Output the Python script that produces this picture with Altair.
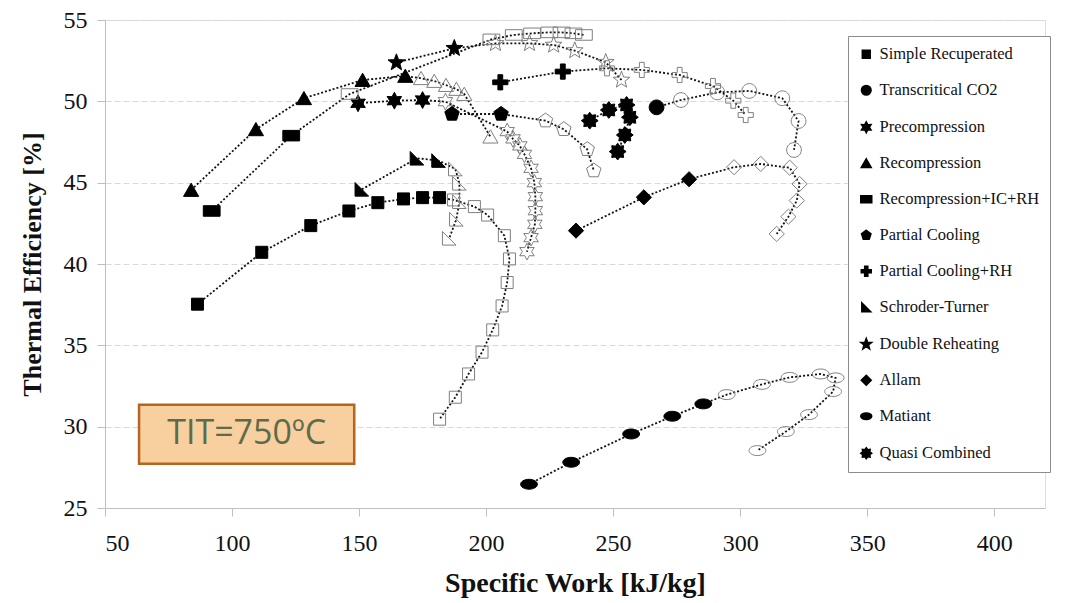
import altair as alt
import pandas as pd

# ---- series names, in legend order ----
SERIES = [
    "Simple Recuperated", "Transcritical CO2", "Precompression", "Recompression",
    "Recompression+IC+RH", "Partial Cooling", "Partial Cooling+RH", "Schroder-Turner",
    "Double Reheating", "Allam", "Matiant", "Quasi Combined",
]

# ---- specific work [kJ/kg] / thermal efficiency [%]; the first N points are filled ----
SR_X = [86.4, 111.7, 131.0, 146.0, 157.4, 167.5, 175.0, 181.7,
        187.2, 195.4, 200.6, 207.2, 209.2, 208.3, 206.3, 202.6, 198.4, 193.1, 187.9, 181.7]
SR_Y = [37.53, 40.72, 42.36, 43.26, 43.77, 44.00, 44.08, 44.08,
        43.94, 43.53, 43.01, 41.74, 40.31, 38.86, 37.42, 35.95, 34.58, 33.24, 31.81, 30.46]
SR_N = 8

TC_X = [267.1, 276.7, 291.0, 303.6, 316.6, 323.0, 321.2]
TC_Y = [49.63, 50.08, 50.55, 50.64, 50.19, 48.79, 47.01]
TC_N = 1

PC_X = [149.6, 163.9, 175.0, 184.0, 208.3, 210.6, 213.3, 215.1, 217.7, 219.0, 219.4, 219.4, 219.2, 217.7, 216.1]
PC_Y = [49.88, 50.04, 50.08, 49.98, 48.14, 47.69, 47.26, 46.74, 45.88, 45.00, 44.14, 43.28, 42.44, 41.62, 40.76]
PC_N = 3

RC_X = [83.9, 109.4, 128.3, 151.4, 168.2, 174.4, 179.6, 184.2, 188.3, 191.4, 201.7]
RC_Y = [44.55, 48.28, 50.19, 51.31, 51.56, 51.42, 51.25, 51.00, 50.76, 50.45, 47.83]
RC_N = 5

RIR_X = [92.0, 123.3, 146.3, 202.1, 210.9, 218.1, 224.9, 229.7, 234.4, 238.5]
RIR_Y = [43.26, 47.89, 50.45, 53.81, 54.08, 54.18, 54.24, 54.24, 54.18, 54.08]
RIR_N = 2

PCL_X = [186.6, 205.9, 223.4, 230.6, 239.8, 242.4]
PCL_Y = [49.22, 49.22, 48.81, 48.28, 47.05, 45.74]
PCL_N = 2

PCR_X = [205.6, 230.2, 247.6, 261.3, 276.2, 289.3, 297.3, 302.2]
PCR_Y = [51.17, 51.83, 52.03, 51.93, 51.62, 50.94, 50.04, 49.16]
PCR_N = 2

ST_X = [151.1, 172.8, 181.3, 187.9, 189.5, 189.5, 188.3, 185.5]
ST_Y = [44.59, 46.50, 46.36, 45.84, 44.96, 43.83, 42.75, 41.58]
ST_N = 3

DR_X = [164.7, 187.5, 203.7, 217.1, 226.6, 234.9, 247.1, 253.3]
DR_Y = [52.38, 53.26, 53.56, 53.56, 53.46, 53.12, 52.40, 51.31]
DR_N = 2

AL_X = [235.4, 262.1, 279.9, 297.6, 308.1, 319.5, 323.4, 322.3, 319.0, 314.4]
AL_Y = [42.05, 44.10, 45.21, 45.95, 46.15, 45.92, 44.92, 43.90, 42.91, 41.85]
AL_N = 3

MA_X = [216.9, 233.5, 257.1, 273.3, 285.5, 294.7, 308.6, 319.5, 331.7, 337.6, 336.6, 327.1, 318.0, 306.8]
MA_Y = [26.46, 27.81, 29.55, 30.64, 31.40, 31.97, 32.60, 33.03, 33.24, 33.00, 32.16, 30.74, 29.70, 28.53]
MA_N = 5

QC_X = [240.8, 248.3, 255.3, 256.6, 254.6, 251.8]
QC_Y = [48.81, 49.47, 49.78, 49.02, 47.93, 46.91]
QC_N = 6

X_TICKS = [50, 100, 150, 200, 250, 300, 350, 400]
Y_TICKS = [25, 30, 35, 40, 45, 50, 55]

LABEL_TEXT = ["TIT=750\u00baC"]
LABEL_BOX_X = [63.4, 148.1]
LABEL_BOX_Y = [27.72, 31.34]

# ---- marker outlines (unit paths, scaled by the symbol size) ----
SHAPES = [
    "M-0.75,-0.75H0.75V0.75H-0.75Z",
    "M-0.92,0A0.92,0.92 0 1,0 0.92,0A0.92,0.92 0 1,0 -0.92,0Z",
    "M0,-1.05L0.289,-0.5L0.909,-0.525L0.578,0L0.909,0.525L0.289,0.5L0,1.05L-0.289,0.5"
    "L-0.909,0.525L-0.578,0L-0.909,-0.525L-0.289,-0.5Z",
    "M0,-0.85L0.95,0.8L-0.95,0.8Z",
    "M-1.05,-0.66H1.05V0.66H-1.05Z",
    "M0,-0.95L0.903,-0.294L0.559,0.769L-0.559,0.769L-0.903,-0.294Z",
    "M-0.3,-0.95H0.3V-0.3H0.95V0.3H0.3V0.95H-0.3V0.3H-0.95V-0.3H-0.3Z",
    "M-0.85,-0.85L-0.85,0.85L0.85,0.85Z",
    "M0,-1.1L0.272,-0.374L1.046,-0.34L0.439,0.143L0.647,0.89L0,0.462L-0.647,0.89"
    "L-0.439,0.143L-1.046,-0.34L-0.272,-0.374Z",
    "M0,-0.95L0.95,0L0,0.95L-0.95,0Z",
    "M-1.05,0A1.05,0.62 0 1,0 1.05,0A1.05,0.62 0 1,0 -1.05,0Z",
    "M0,-1.05L0.281,-0.679L0.742,-0.742L0.679,-0.281L1.05,0L0.679,0.281L0.742,0.742"
    "L0.281,0.679L0,1.05L-0.281,0.679L-0.742,0.742L-0.679,0.281L-1.05,0L-0.679,-0.281"
    "L-0.742,-0.742L-0.281,-0.679Z",
]

SERIES_DATA = [
    (SR_X, SR_Y, SR_N), (TC_X, TC_Y, TC_N), (PC_X, PC_Y, PC_N), (RC_X, RC_Y, RC_N),
    (RIR_X, RIR_Y, RIR_N), (PCL_X, PCL_Y, PCL_N), (PCR_X, PCR_Y, PCR_N), (ST_X, ST_Y, ST_N),
    (DR_X, DR_Y, DR_N), (AL_X, AL_Y, AL_N), (MA_X, MA_Y, MA_N), (QC_X, QC_Y, QC_N),
]

rows = []
for name, (xs, ys, n_filled) in zip(SERIES, SERIES_DATA):
    for i, (xv, yv) in enumerate(zip(xs, ys)):
        rows.append({"series": name, "idx": i, "work": xv, "eff": yv,
                     "state": "solid" if i < n_filled else "open"})
df = pd.DataFrame(rows)

SERIF = "Liberation Serif"

x_enc = alt.X(
    "work:Q",
    scale=alt.Scale(domain=[50, 420], nice=False, zero=False),
    axis=alt.Axis(
        values=X_TICKS, title="Specific Work [kJ/kg]", grid=False,
        domainColor="#BFBFBF", tickColor="#BFBFBF", tickSize=8,
        labelFont=SERIF, labelFontSize=24, labelColor="#111111", labelPadding=15,
        titleFont=SERIF, titleFontSize=28, titleFontWeight="bold", titleColor="#111111",
        titlePadding=14,
    ),
)
y_enc = alt.Y(
    "eff:Q",
    scale=alt.Scale(domain=[25, 55], nice=False, zero=False),
    axis=alt.Axis(
        values=Y_TICKS, title="Thermal Efficiency [%]", grid=True,
        gridColor="#D9D9D9", gridDash=[6, 3], gridWidth=1,
        domainColor="#BFBFBF", tickColor="#BFBFBF", tickSize=8,
        labelFont=SERIF, labelFontSize=24, labelColor="#111111", labelPadding=10,
        titleFont=SERIF, titleFontSize=26, titleFontWeight="bold", titleColor="#111111",
        titlePadding=18,
    ),
)

legend = alt.Legend(
    title=None, orient="none", legendX=743, legendY=16,
    fillColor="white", strokeColor="#8C8C8C", padding=10,
    symbolSize=110, symbolFillColor="black", symbolStrokeColor="black",
    labelFont=SERIF, labelFontSize=16.5, labelColor="#111111",
    rowPadding=19, labelOffset=5, labelLimit=300,
)
shape_enc = alt.Shape("series:N", scale=alt.Scale(domain=SERIES, range=SHAPES), legend=legend)

lines = alt.Chart(df).mark_line(color="#111111", strokeDash=[2, 2], strokeWidth=1.8).encode(
    x=x_enc, y=y_enc, detail="series:N", order="idx:Q"
)

points = alt.Chart(df).mark_point(size=256, opacity=1, strokeWidth=1).encode(
    x=x_enc, y=y_enc, shape=shape_enc,
    fill=alt.Fill("state:N", scale=alt.Scale(domain=["solid", "open"], range=["black", "transparent"]), legend=None),
    stroke=alt.Stroke("state:N", scale=alt.Scale(domain=["solid", "open"], range=["black", "#7F7F7F"]), legend=None),
)

box_df = pd.DataFrame({
    "x1": [LABEL_BOX_X[0]], "x2": [LABEL_BOX_X[1]],
    "y1": [LABEL_BOX_Y[0]], "y2": [LABEL_BOX_Y[1]],
    "xm": [(LABEL_BOX_X[0] + LABEL_BOX_X[1]) / 2], "ym": [(LABEL_BOX_Y[0] + LABEL_BOX_Y[1]) / 2],
    "label": LABEL_TEXT,
})
box = alt.Chart(box_df).mark_rect(fill="#F8CF9F", stroke="#B5651D", strokeWidth=2.5).encode(
    x="x1:Q", x2="x2:Q", y="y1:Q", y2="y2:Q"
)
box_text = alt.Chart(box_df).mark_text(
    font="Open Sans", fontSize=34, color="#5E6B4B", align="center", baseline="middle"
).encode(x="xm:Q", y="ym:Q", text="label:N")

chart = alt.layer(box, box_text, lines, points).properties(
    width=940, height=488,
    autosize=alt.AutoSizeParams(type="none"),
    padding={"left": 105, "top": 20, "right": 25, "bottom": 95},
).configure_view(stroke=None).configure(background="white")

chart.save("out.html", embed_options={"renderer": "svg", "actions": False})
